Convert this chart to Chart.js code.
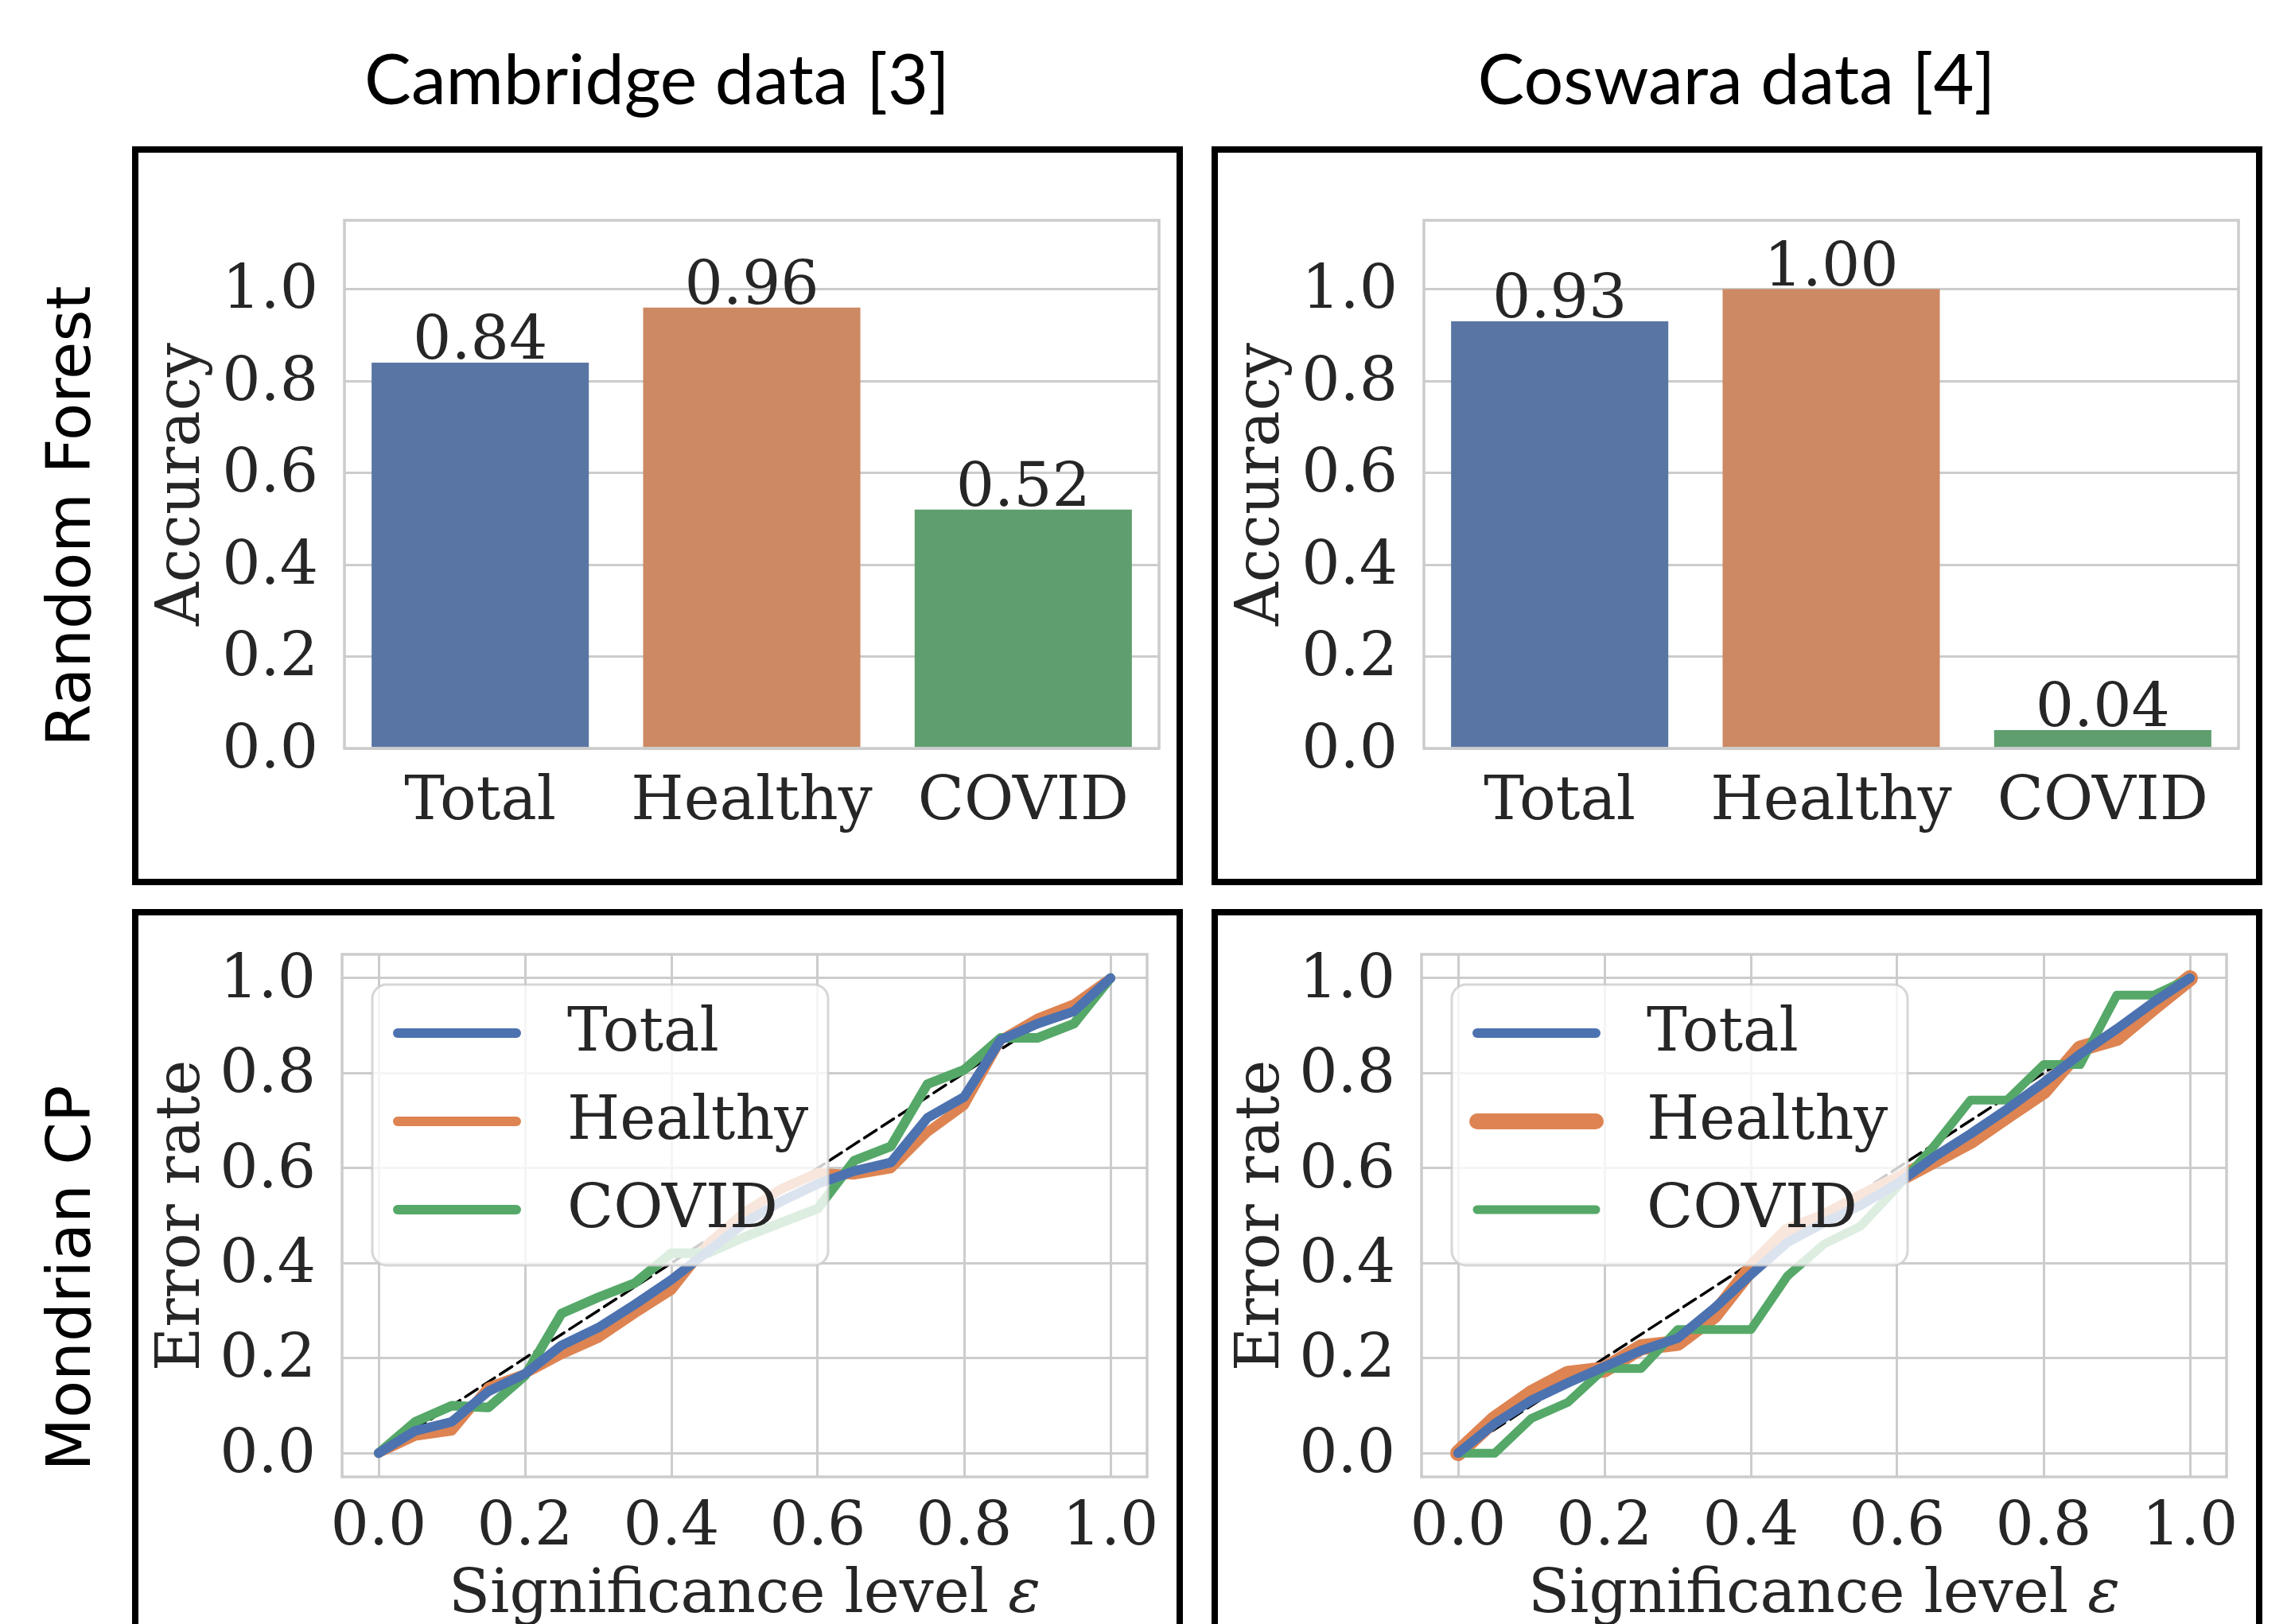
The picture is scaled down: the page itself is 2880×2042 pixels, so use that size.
<!DOCTYPE html>
<html>
<head>
<meta charset="utf-8">
<script src="https://cdn.jsdelivr.net/npm/chart.js@4.4.1/dist/chart.umd.min.js"></script>
<style>
  body { margin: 0; width: 2880px; height: 2042px; overflow: hidden; background: #fff; position: relative; }
  .box { position: absolute; box-sizing: border-box; border: 8px solid #000; }
  .coltitle { position: absolute; top: 53px; font-family: Lato, "Open Sans", sans-serif; font-size: 88px; line-height: 1; color: #000; transform: translateX(-50%); white-space: nowrap; }
  .rowtitle { position: absolute; left: 86px; font-family: "DejaVu Sans", sans-serif; font-size: 77px; line-height: 1; color: #000; transform: translate(-50%, -50%) rotate(-90deg); white-space: nowrap; }
  canvas { position: absolute; }
</style>
</head>
<body>
<div class="coltitle" style="left:826px">Cambridge data [3]</div>
<div class="coltitle" style="left:2183px">Coswara data [4]</div>
<div class="rowtitle" style="top:649px">Random Forest</div>
<div class="rowtitle" style="top:1607px">Mondrian CP</div>

<div class="box" style="left:166px;top:184px;width:1321px;height:929px"></div>
<div class="box" style="left:1523px;top:184px;width:1321px;height:929px"></div>
<div class="box" style="left:166px;top:1143px;width:1321px;height:1000px"></div>
<div class="box" style="left:1523px;top:1143px;width:1321px;height:1000px"></div>

<canvas id="rfCambridge" width="1305" height="913" style="left:174px;top:192px"></canvas>
<canvas id="rfCoswara" width="1305" height="913" style="left:1531px;top:192px"></canvas>
<canvas id="cpCambridge" width="1305" height="891" style="left:174px;top:1151px"></canvas>
<canvas id="cpCoswara" width="1305" height="891" style="left:1531px;top:1151px"></canvas>

<script>
// bar charts: accuracy per class
const categories = ['Total', 'Healthy', 'COVID'];
const cambridgeAccuracy = [0.84, 0.96, 0.52];
const coswaraAccuracy = [0.93, 1.00, 0.04];
const accuracyTicks = [0.0, 0.2, 0.4, 0.6, 0.8, 1.0];

// calibration curves: error rate vs significance level
const significance = [0.00, 0.05, 0.10, 0.15, 0.20, 0.25, 0.30, 0.35, 0.40, 0.45, 0.50,
                      0.55, 0.60, 0.65, 0.70, 0.75, 0.80, 0.85, 0.90, 0.95, 1.00];
const cambridgeTotal   = [0, 0.047, 0.066, 0.130, 0.167, 0.227, 0.264, 0.313, 0.365, 0.425, 0.485,
                          0.530, 0.567, 0.594, 0.612, 0.706, 0.750, 0.870, 0.904, 0.930, 1.0];
const cambridgeHealthy = [0, 0.036, 0.047, 0.139, 0.167, 0.208, 0.242, 0.294, 0.343, 0.440, 0.507,
                          0.556, 0.590, 0.586, 0.599, 0.676, 0.732, 0.870, 0.915, 0.945, 1.0];
const cambridgeCovid   = [0, 0.066, 0.100, 0.096, 0.163, 0.294, 0.328, 0.358, 0.421, 0.421, 0.455,
                          0.485, 0.515, 0.616, 0.646, 0.777, 0.807, 0.874, 0.874, 0.904, 1.0];
const coswaraTotal     = [0, 0.062, 0.111, 0.148, 0.182, 0.216, 0.242, 0.305, 0.376, 0.444, 0.485,
                          0.522, 0.567, 0.623, 0.672, 0.724, 0.780, 0.840, 0.893, 0.949, 1.0];
const coswaraHealthy   = [0, 0.072, 0.126, 0.167, 0.176, 0.223, 0.232, 0.290, 0.388, 0.466, 0.496,
                          0.537, 0.575, 0.616, 0.657, 0.710, 0.762, 0.852, 0.874, 0.938, 1.0];
const coswaraCovid     = [0, 0.000, 0.073, 0.107, 0.178, 0.178, 0.260, 0.260, 0.260, 0.373, 0.440,
                          0.478, 0.560, 0.646, 0.743, 0.743, 0.818, 0.818, 0.964, 0.964, 1.0];
const diagonal = [0, 1];
const errorTicks = [0.0, 0.2, 0.4, 0.6, 0.8, 1.0];

const INK = '#262626';
const GRID = '#cccccc';
const barColors = ['#5975a4', '#cc8963', '#5f9e6e'];
const lineColors = { Total: '#4c72b0', Healthy: '#dd8452', COVID: '#55a868' };
const serif = { family: '"DejaVu Serif", serif', size: 76, lineHeight: 1 };
const SERIF_CSS = '76px "DejaVu Serif", serif';

// light grey spines all round the axes
const axesFrame = {
  id: 'axesFrame',
  afterDatasetsDraw(chart) {
    const a = chart.chartArea, ctx = chart.ctx;
    ctx.save();
    ctx.strokeStyle = GRID;
    ctx.lineWidth = 3.5;
    ctx.strokeRect(a.left, a.top, a.right - a.left, a.bottom - a.top);
    ctx.restore();
  }
};

// "0.84" etc above each bar
const barLabels = {
  id: 'barLabels',
  afterDatasetsDraw(chart) {
    const ctx = chart.ctx;
    const meta = chart.getDatasetMeta(0);
    const vals = chart.data.datasets[0].data;
    ctx.save();
    ctx.font = SERIF_CSS;
    ctx.fillStyle = INK;
    ctx.textAlign = 'center';
    ctx.textBaseline = 'alphabetic';
    meta.data.forEach((bar, i) => {
      ctx.fillText(vals[i].toFixed(2), bar.x, bar.y - 5);
    });
    ctx.restore();
  }
};

// x title with an italic epsilon, like mathtext
const epsTitle = {
  id: 'epsTitle',
  afterDraw(chart) {
    const a = chart.chartArea, ctx = chart.ctx;
    const plain = 'Significance level ', sym = 'ε';
    ctx.save();
    ctx.fillStyle = INK;
    ctx.textBaseline = 'alphabetic';
    ctx.textAlign = 'left';
    ctx.font = SERIF_CSS;
    const w1 = ctx.measureText(plain).width;
    ctx.font = 'italic ' + SERIF_CSS;
    const w2 = ctx.measureText(sym).width;
    const x0 = (a.left + a.right) / 2 - (w1 + w2) / 2;
    const y = a.bottom + 170;
    ctx.font = SERIF_CSS;
    ctx.fillText(plain, x0, y);
    ctx.font = 'italic ' + SERIF_CSS;
    ctx.fillText(sym, x0 + w1, y);
    ctx.restore();
  }
};

// matplotlib-like legend sitting above the lines, semi-transparent
const cpLegend = {
  id: 'cpLegend',
  afterDraw(chart) {
    const a = chart.chartArea, ctx = chart.ctx;
    const x = a.left + 38, y = a.top + 38, w = 573, h = 353, r = 18;
    ctx.save();
    ctx.globalAlpha = 0.8;
    ctx.beginPath();
    ctx.roundRect(x, y, w, h, r);
    ctx.fillStyle = '#ffffff';
    ctx.fill();
    ctx.lineWidth = 3;
    ctx.strokeStyle = GRID;
    ctx.stroke();
    ctx.globalAlpha = 1;
    const items = chart.data.datasets.filter(d => !d.borderDash);
    items.forEach((ds, i) => {
      const ry = y + 61 + i * 111;
      ctx.beginPath();
      ctx.lineCap = 'round';
      ctx.lineWidth = ds.borderWidth;
      ctx.strokeStyle = ds.borderColor;
      ctx.moveTo(x + 32, ry);
      ctx.lineTo(x + 181, ry);
      ctx.stroke();
      ctx.font = SERIF_CSS;
      ctx.fillStyle = INK;
      ctx.textAlign = 'left';
      ctx.textBaseline = 'middle';
      ctx.fillText(ds.label, x + 245, ry + 2);
    });
    ctx.restore();
  }
};

function noEdgePadding(s) {
  s.paddingTop = 0;
  s.paddingBottom = 0;
  s.paddingLeft = 0;
  s.paddingRight = 0;
}

function barChart(id, values) {
  return new Chart(document.getElementById(id), {
    type: 'bar',
    data: {
      labels: categories,
      datasets: [{
        data: values,
        backgroundColor: barColors,
        borderWidth: 0,
        barPercentage: 0.8,
        categoryPercentage: 1.0
      }]
    },
    options: {
      responsive: false,
      animation: false,
      devicePixelRatio: 1,
      layout: { padding: { top: 85, right: 22, left: 0, bottom: 0 } },
      plugins: { legend: { display: false }, tooltip: { enabled: false } },
      scales: {
        x: {
          grid: { display: false, drawTicks: false },
          border: { display: false },
          ticks: { color: INK, font: serif, padding: 31 },
          afterFit: s => { s.height = 164; noEdgePadding(s); }
        },
        y: {
          min: 0,
          max: 1.15,
          afterBuildTicks: s => { s.ticks = accuracyTicks.map(v => ({ value: v })); },
          grid: { color: GRID, lineWidth: 3, drawTicks: false },
          border: { display: false },
          ticks: { color: INK, font: serif, padding: 33, labelOffset: 4, callback: v => Number(v).toFixed(1) },
          title: { display: true, text: 'Accuracy', color: INK, font: serif, padding: { top: 18, bottom: 0 } },
          afterFit: s => { s.width = 259; noEdgePadding(s); }
        }
      }
    },
    plugins: [axesFrame, barLabels]
  });
}

function pts(ys) {
  return significance.map((x, i) => ({ x: x, y: ys[i] }));
}

function cpChart(id, total, healthy, covid, widths) {
  const line = (label, ys, w, order) => ({
    label: label,
    data: pts(ys),
    borderColor: lineColors[label],
    borderWidth: w,
    order: order
  });
  return new Chart(document.getElementById(id), {
    type: 'line',
    data: {
      datasets: [
        line('Total', total, widths[0], 1),
        line('Healthy', healthy, widths[1], 3),
        line('COVID', covid, widths[2], 2),
        {
          label: 'ideal',
          data: diagonal.map(v => ({ x: v, y: v })),
          borderColor: '#000000',
          borderWidth: 3.5,
          borderDash: [18, 8],
          order: 4
        }
      ]
    },
    options: {
      responsive: false,
      animation: false,
      devicePixelRatio: 1,
      elements: {
        point: { radius: 0 },
        line: { tension: 0, borderCapStyle: 'round', borderJoinStyle: 'round' }
      },
      layout: { padding: { top: 49, right: 37, left: 0, bottom: 0 } },
      plugins: { legend: { display: false }, tooltip: { enabled: false } },
      scales: {
        x: {
          type: 'linear',
          min: -0.05,
          max: 1.05,
          afterBuildTicks: s => { s.ticks = errorTicks.map(v => ({ value: v })); },
          grid: { color: GRID, lineWidth: 3, drawTicks: false },
          border: { display: false },
          ticks: { color: INK, font: serif, padding: 27, callback: v => Number(v).toFixed(1) },
          afterFit: s => { s.height = 185; noEdgePadding(s); }
        },
        y: {
          type: 'linear',
          min: -0.05,
          max: 1.05,
          afterBuildTicks: s => { s.ticks = errorTicks.map(v => ({ value: v })); },
          grid: { color: GRID, lineWidth: 3, drawTicks: false },
          border: { display: false },
          ticks: { color: INK, font: serif, padding: 33, labelOffset: 4, callback: v => Number(v).toFixed(1) },
          title: { display: true, text: 'Error rate', color: INK, font: serif, padding: { top: 18, bottom: 0 } },
          afterFit: s => { s.width = 256; noEdgePadding(s); }
        }
      }
    },
    plugins: [axesFrame, epsTitle, cpLegend]
  });
}

barChart('rfCambridge', cambridgeAccuracy);
barChart('rfCoswara', coswaraAccuracy);
cpChart('cpCambridge', cambridgeTotal, cambridgeHealthy, cambridgeCovid, [12, 12, 12]);
cpChart('cpCoswara', coswaraTotal, coswaraHealthy, coswaraCovid, [12, 20, 11]);
</script>
</body>
</html>
